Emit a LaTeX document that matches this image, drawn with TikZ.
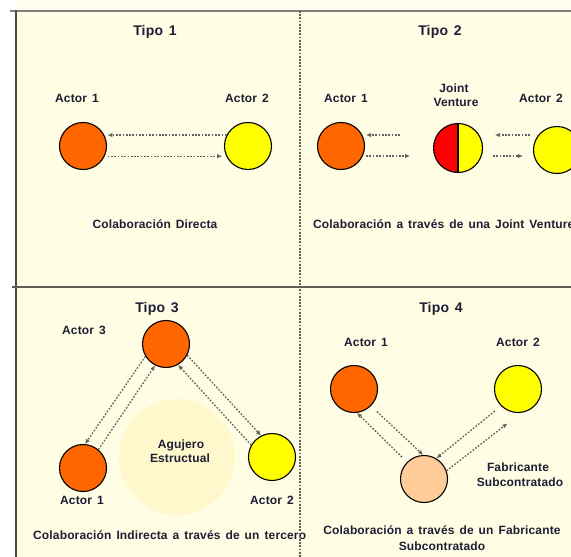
\documentclass[tikz,border=0pt]{standalone}
\usepackage{fontspec}
\setmainfont{Liberation Sans}[LetterSpace=1.2, WordSpace=1.45]
\usetikzlibrary{arrows.meta}
\definecolor{panel}{HTML}{FFFDE3}
\definecolor{paneltop}{HTML}{FFFEEE}
\definecolor{hole}{HTML}{FFF8CC}
\definecolor{ink}{HTML}{1E1E36}
\definecolor{linkgray}{HTML}{626262}
\definecolor{rule}{HTML}{5E5E54}
\definecolor{orangeA}{HTML}{FF6600}
\definecolor{yellowA}{HTML}{FFFF00}
\definecolor{redA}{HTML}{FF0000}
\definecolor{peach}{HTML}{FFCC99}
\tikzset{
  lbl/.style={font=\bfseries\fontsize{12}{14}\selectfont, text=ink, inner sep=0pt, anchor=base},
  ttl/.style={lbl, font=\bfseries\fontsize{14}{16}\selectfont},
  actor/.style={circle, draw=black, line width=1.1pt, minimum size=47pt, inner sep=0pt},
  link/.style={draw=linkgray, line width=1.3pt, dash pattern=on 1.7pt off 1.6pt,
               -{Latex[length=5pt,width=4.5pt]}},
}
\begin{document}
\begin{tikzpicture}[x=1pt,y=-1pt]
\useasboundingbox (0,0) rectangle (571,557);

% paper background
\fill[paneltop] (16,0) rectangle (571,11);
\fill[panel] (16,11) rectangle (571,557);

% ---------------- Tipo 1 ----------------
\node[ttl] (t1title) at (155,35) {Tipo 1};
\node[lbl] (t1la) at (77,102) {Actor 1};
\node[lbl] (t1lb) at (247,102) {Actor 2};
\node[actor, fill=orangeA] (t1a) at (83,146) {};
\node[actor, fill=yellowA] (t1b) at (248,146) {};
\draw[link, shorten >=3pt] (t1b.153) -- (t1a.27);
\draw[link, shorten <=3pt, shorten >=4pt] (t1a.335) -- (t1b.205);
\node[lbl] (t1cap) at (155,228) {Colaboración Directa};

% ---------------- Tipo 2 ----------------
\node[ttl] (t2title) at (440,35) {Tipo 2};
\node[lbl] (t2la) at (346,102) {Actor 1};
\node[lbl] (t2lj1) at (454,92) {Joint};
\node[lbl] (t2lj2) at (456,106) {Venture};
\node[lbl] (t2lb) at (541,102) {Actor 2};
\node[actor, fill=orangeA] (t2a) at (341,146) {};
\node[actor, minimum size=49pt,
      path picture={
        \fill[redA] (path picture bounding box.south west) rectangle (path picture bounding box.north);
        \fill[yellowA] (path picture bounding box.south) rectangle (path picture bounding box.north east);
        \draw[line width=1.1pt] (path picture bounding box.south) -- (path picture bounding box.north);
      }] (t2j) at (458,148) {};
\node[actor, fill=yellowA] (t2b) at (557,150) {};
\draw[link] ([shift={(35,-11)}]t2a.east) -- ([shift={(1,-11)}]t2a.east);
\draw[link] ([shift={(1,10)}]t2a.east) -- ([shift={(45,10)}]t2a.east);
\draw[link] ([shift={(-3,-15)}]t2b.west) -- ([shift={(-38,-15)}]t2b.west);
\draw[link] ([shift={(-40,6)}]t2b.west) -- ([shift={(-10,6)}]t2b.west);
\node[lbl, anchor=base west] (t2cap) at (313,228) {Colaboración a través de una Joint Venture};

% ---------------- Tipo 3 ----------------
\node[circle, fill=hole, minimum size=116pt, inner sep=0pt] (t3hole) at (177,457) {};
\node[lbl] (t3h1) at (181,448) {Agujero};
\node[lbl] (t3h2) at (180,462) {Estructual};
\node[ttl] (t3title) at (157,312) {Tipo 3};
\node[lbl] (t3lc) at (84,334) {Actor 3};
\node[lbl] (t3la) at (82,504) {Actor 1};
\node[lbl] (t3lb) at (272,504) {Actor 2};
\node[actor, fill=orangeA] (t3c) at (166,344) {};
\node[actor, fill=orangeA] (t3a) at (83,468) {};
\node[actor, fill=yellowA] (t3b) at (272,457) {};
\draw[link] (t3c.211) -- (t3a.85);
\draw[link] (t3a.50) -- (t3c.243);
\draw[link] (t3c.332) -- (t3b.117);
\draw[link] (t3b.150) -- (t3c.300);
\node[lbl, anchor=base west] (t3cap) at (33,539) {Colaboración Indirecta a través de un tercero};

% ---------------- Tipo 4 ----------------
\node[ttl] (t4title) at (441,312) {Tipo 4};
\node[lbl] (t4la) at (366,346) {Actor 1};
\node[lbl] (t4lb) at (518,346) {Actor 2};
\node[actor, fill=orangeA] (t4a) at (354,389) {};
\node[actor, fill=yellowA] (t4b) at (518,389) {};
\node[actor, fill=peach] (t4f) at (424,479) {};
\draw[link, shorten <=7pt] (t4f.135) -- (t4a.277);
\draw[link, shorten <=8pt] (t4a.315) -- (t4f.92);
\draw[link, shorten <=8pt] (t4b.225) -- (t4f.59);
\draw[link, shorten >=17pt] (t4f.20) -- (t4b.277);
\node[lbl] (t4lf1) at (518,471) {Fabricante};
\node[lbl] (t4lf2) at (520,486) {Subcontratado};
\node[lbl] (t4cap1) at (442,534) {Colaboración a través de un Fabricante};
\node[lbl] (t4cap2) at (442,550) {Subcontratado};

% ---------------- frame and dividers ----------------
\draw[line width=2.4pt, draw=gray] (10,11) -- (571,11);
\draw[line width=2pt, draw=rule!80!black] (16,10) -- (16,557);
\draw[line width=2.4pt, draw=rule] (12,287) -- (571,287);
\draw[line width=1.6pt, draw=rule, dash pattern=on 1.8pt off 1.4pt] (300,11) -- (300,557);
\end{tikzpicture}
\end{document}
